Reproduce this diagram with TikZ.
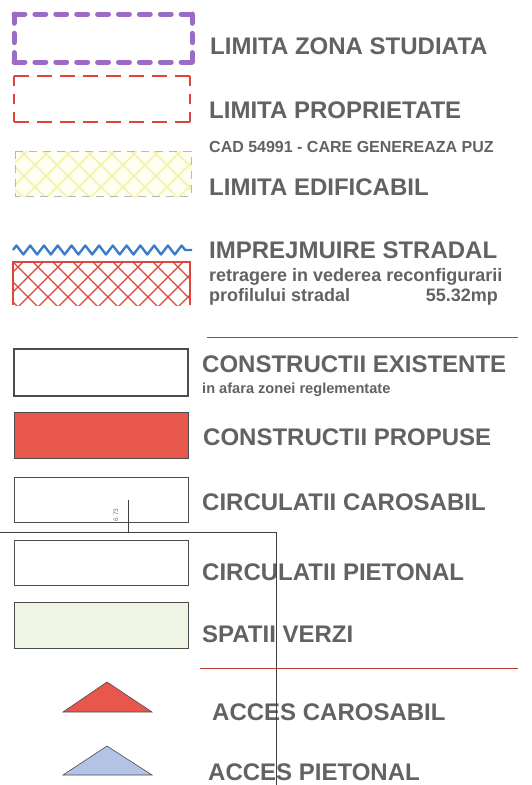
\documentclass[tikz,border=0pt]{standalone}
\usepackage{fontspec}
\setmainfont{Liberation Sans}
\usetikzlibrary{decorations.pathmorphing}
\definecolor{txt}{HTML}{626262}
\definecolor{purp}{HTML}{9C6CC4}
\definecolor{redd}{HTML}{E0453A}
\definecolor{redfill}{HTML}{E8574B}
\definecolor{bluez}{HTML}{3D7CC9}
\definecolor{yelhatch}{HTML}{F5F5B2}
\definecolor{greenfill}{HTML}{EEF5E4}
\definecolor{bluetri}{HTML}{B3C3E6}
\tikzset{
  lbl/.style={anchor=base west, inner sep=0pt, text=txt, font=\bfseries\fontsize{24}{28}\selectfont},
  sublbl/.style={anchor=base west, inner sep=0pt, text=txt, font=\bfseries\fontsize{18}{21}\selectfont},
  smalllbl/.style={anchor=base west, inner sep=0pt, text=txt, font=\bfseries\fontsize{16}{19}\selectfont},
  legbox/.style={draw=black!70, line width=1pt},
  sepline/.style={draw=redd!85!black, line width=0.9pt},
  thinline/.style={draw=black!75, line width=0.8pt},
  purpdash/.style={draw=purp, line width=5pt, line cap=round},
  reddash/.style={draw=redd, line width=2pt},
}
\begin{document}
\begin{tikzpicture}[x=1pt,y=-1pt]
\useasboundingbox[fill=white] (0,0) rectangle (531,785);

% --- LIMITA ZONA STUDIATA (purple dashed)
\draw[purpdash, dash pattern=on 10.9pt off 10pt] (14,14) -- (192,14);
\draw[purpdash, dash pattern=on 10.9pt off 10pt] (14,62) -- (192,62);
\draw[purpdash, dash pattern=on 9.3pt off 10pt] (14,14) -- (14,62);
\draw[purpdash, dash pattern=on 9.3pt off 10pt] (192,14) -- (192,62);
\node[lbl] (t1) at (210,54) {LIMITA ZONA STUDIATA};

% --- LIMITA PROPRIETATE (red dashed)
\draw[reddash, dash pattern=on 15pt off 8pt] (14,76) -- (190,76);
\draw[reddash, dash pattern=on 15pt off 8pt] (14,122) -- (190,122);
\draw[reddash, dash pattern=on 10pt off 8pt] (14,76) -- (14,122);
\draw[reddash, dash pattern=on 10pt off 8pt] (190,76) -- (190,122);
\node[lbl] (t2) at (209,118) {LIMITA PROPRIETATE};
\node[smalllbl] (t3) at (209,152) {CAD 54991 - CARE GENEREAZA PUZ};

% --- LIMITA EDIFICABIL (yellow hatch)
\fill[yellow!5] (15,151) rectangle (191,196);
\begin{scope}
  \clip (15,151) rectangle (191,196);
  \foreach \c in {-60,-38,...,200} {
    \draw[yelhatch, line width=1.8pt] (15+\c,151) -- (65+\c,201);
    \draw[yelhatch, line width=1.8pt] (15+\c,201) -- (65+\c,151);
  }
\end{scope}
\draw[black!28, line width=0.9pt, dash pattern=on 8pt off 6pt] (15,151) rectangle (191,196);
\node[lbl] (t4) at (209,195) {LIMITA EDIFICABIL};

% --- IMPREJMUIRE STRADAL
\draw[bluez, line width=2.4pt, line join=round, decorate,
      decoration={zigzag, segment length=13.77pt, amplitude=4.5pt}] (13,250) -- (192,250);
\begin{scope}
  \clip (13,262) rectangle (190,305);
  \foreach \c in {-60,-40,...,200} {
    \draw[redd, line width=1.3pt] (13+\c,262) -- (63+\c,312);
    \draw[redd, line width=1.3pt] (13+\c,312) -- (63+\c,262);
  }
\end{scope}
\draw[redd, line width=1.5pt] (13,305) -- (13,262) -- (190,262) -- (190,305);
\node[lbl] (t5) at (209,258) {IMPREJMUIRE STRADAL};
\node[sublbl] (t6) at (209,281) {retragere in vederea reconfigurarii};
\node[sublbl] (t7) at (209,301) {profilului stradal};
\node[sublbl, anchor=base east] (t8) at (498,301) {55.32mp};

\draw[sepline] (207,337) -- (518,337);

% --- CONSTRUCTII EXISTENTE
\draw[draw=black!70, line width=2pt] (14,349) rectangle (188,396);
\node[lbl] (t9) at (202,372) {CONSTRUCTII EXISTENTE};
\node[anchor=base west, inner sep=0pt, text=txt, font=\bfseries\fontsize{14.6}{17}\selectfont] (t10) at (202,393) {in afara zonei reglementate};

% --- CONSTRUCTII PROPUSE
\draw[legbox, fill=redfill] (14,412) rectangle (188,458);
\node[lbl] (t11) at (203,445) {CONSTRUCTII PROPUSE};

% --- CIRCULATII CAROSABIL
\draw[legbox] (14,477) rectangle (188,522);
\node[lbl] (t12) at (202,510) {CIRCULATII CAROSABIL};
\node[rotate=90, inner sep=0pt, text=black!55, font=\fontsize{6.5}{7}\selectfont] (tiny) at (116,515) {6.73};

% --- CIRCULATII PIETONAL
\draw[legbox] (14,540) rectangle (188,585);
\node[lbl] (t13) at (202,580) {CIRCULATII PIETONAL};

% --- SPATII VERZI
\draw[legbox, fill=greenfill] (14,602) rectangle (188,648);
\node[lbl] (t14) at (202,642) {SPATII VERZI};

\draw[sepline] (200,668) -- (518,668);

% --- ACCES CAROSABIL / PIETONAL
\draw[black!70, line width=0.6pt, fill=redfill] (63,712) -- (107,682) -- (152,712) -- cycle;
\node[lbl] (t15) at (212,720) {ACCES CAROSABIL};
\draw[black!70, line width=0.6pt, fill=bluetri] (63,775) -- (107,746) -- (152,775) -- cycle;
\node[lbl] (t16) at (208,780) {ACCES PIETONAL};

% --- stray plan lines crossing the legend
\coordinate (p1) at (128,500);
\coordinate (p2) at (128,532);
\coordinate (p3) at (0,532);
\coordinate (p4) at (276,532);
\coordinate (p5) at (276,785);
\draw[thinline] (p1) -- (p2);
\draw[thinline] (p3) -- (p4) -- (p5);
\end{tikzpicture}
\end{document}
